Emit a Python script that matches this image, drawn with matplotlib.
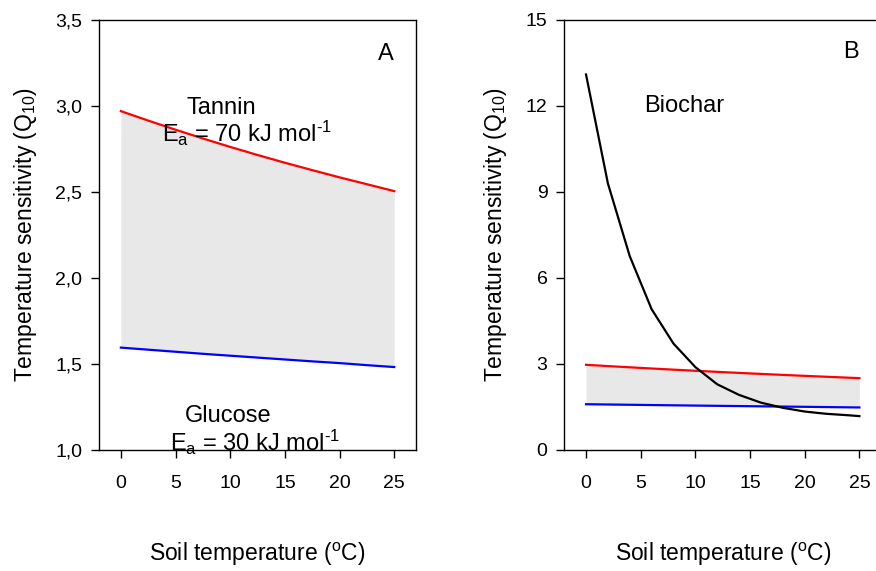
import matplotlib
matplotlib.use("Agg")
import matplotlib.pyplot as plt

plt.rcParams['font.family'] = ['Liberation Sans', 'DejaVu Sans']
plt.rcParams['mathtext.fontset'] = 'custom'
plt.rcParams['mathtext.rm'] = 'Liberation Sans'
plt.rcParams['mathtext.it'] = 'Liberation Sans'

# data
temp = [0, 2.5, 5, 7.5, 10, 12.5, 15, 17.5, 20, 22.5, 25]
tannin = [2.97, 2.915, 2.862, 2.811, 2.762, 2.715, 2.670, 2.627, 2.585, 2.545, 2.505]
glucose = [1.595, 1.583, 1.571, 1.559, 1.548, 1.537, 1.526, 1.515, 1.505, 1.493, 1.482]

biochar_t = [0, 2, 4, 6, 8, 10, 12, 14, 16, 18, 20, 22, 24, 25]
biochar = [13.1, 9.3, 6.76, 4.91, 3.71, 2.89, 2.29, 1.92, 1.65, 1.47, 1.34, 1.26, 1.21, 1.18]

xticks = [0, 5, 10, 15, 20, 25]
yticks_a = [1.0, 1.5, 2.0, 2.5, 3.0, 3.5]
ylabels_a = ["1,0", "1,5", "2,0", "2,5", "3,0", "3,5"]
yticks_b = [0, 3, 6, 9, 12, 15]

fig = plt.figure(figsize=(8.76, 5.71), dpi=100)
ax1 = fig.add_axes([0.113, 0.212, 0.362, 0.753])
ax2 = fig.add_axes([0.644, 0.212, 0.362, 0.753])

for ax in (ax1, ax2):
    ax.fill_between(temp, glucose, tannin, color="#e8e8e8", lw=0)
    ax.plot(temp, tannin, color="red", lw=1.6)
    ax.plot(temp, glucose, color="blue", lw=1.6)
    ax.set_xlim(-2, 27)
    ax.set_xticks(xticks)
    ax.tick_params(direction="out", length=6, width=1, labelsize=14, pad=6)
    ax.tick_params(axis="x", pad=12)
    for s in ax.spines.values():
        s.set_linewidth(1)
    ax.set_xlabel("Soil temperature ($^{\\mathrm{o}}$C)", fontsize=16.5, labelpad=35)
    ax.set_ylabel("Temperature sensitivity (Q$_{10}$)", fontsize=16.5, labelpad=12)

ea70 = "E$_{\\mathrm{a}}$ = 70 kJ mol$^{\\text{-1}}$"
ea30 = "E$_{\\mathrm{a}}$ = 30 kJ mol$^{\\text{-1}}$"

ax1.set_ylim(1.0, 3.5)
ax1.set_yticks(yticks_a)
ax1.set_yticklabels(ylabels_a)
ax1.text(9.2, 2.99, "Tannin", fontsize=17, ha="center", va="center")
ax1.text(3.8, 2.84, ea70, fontsize=17, ha="left", va="center")
ax1.text(9.8, 1.195, "Glucose", fontsize=17, ha="center", va="center")
ax1.text(4.5, 1.045, ea30, fontsize=17, ha="left", va="center")
ax1.text(24.2, 3.3, "A", fontsize=17, ha="center", va="center")

ax2.plot(biochar_t, biochar, color="black", lw=1.6)
ax2.set_ylim(0, 15)
ax2.set_yticks(yticks_b)
ax2.text(9.0, 12.0, "Biochar", fontsize=17, ha="center", va="center")
ax2.text(24.2, 13.9, "B", fontsize=17, ha="center", va="center")

fig.savefig("out.png", dpi=100)
